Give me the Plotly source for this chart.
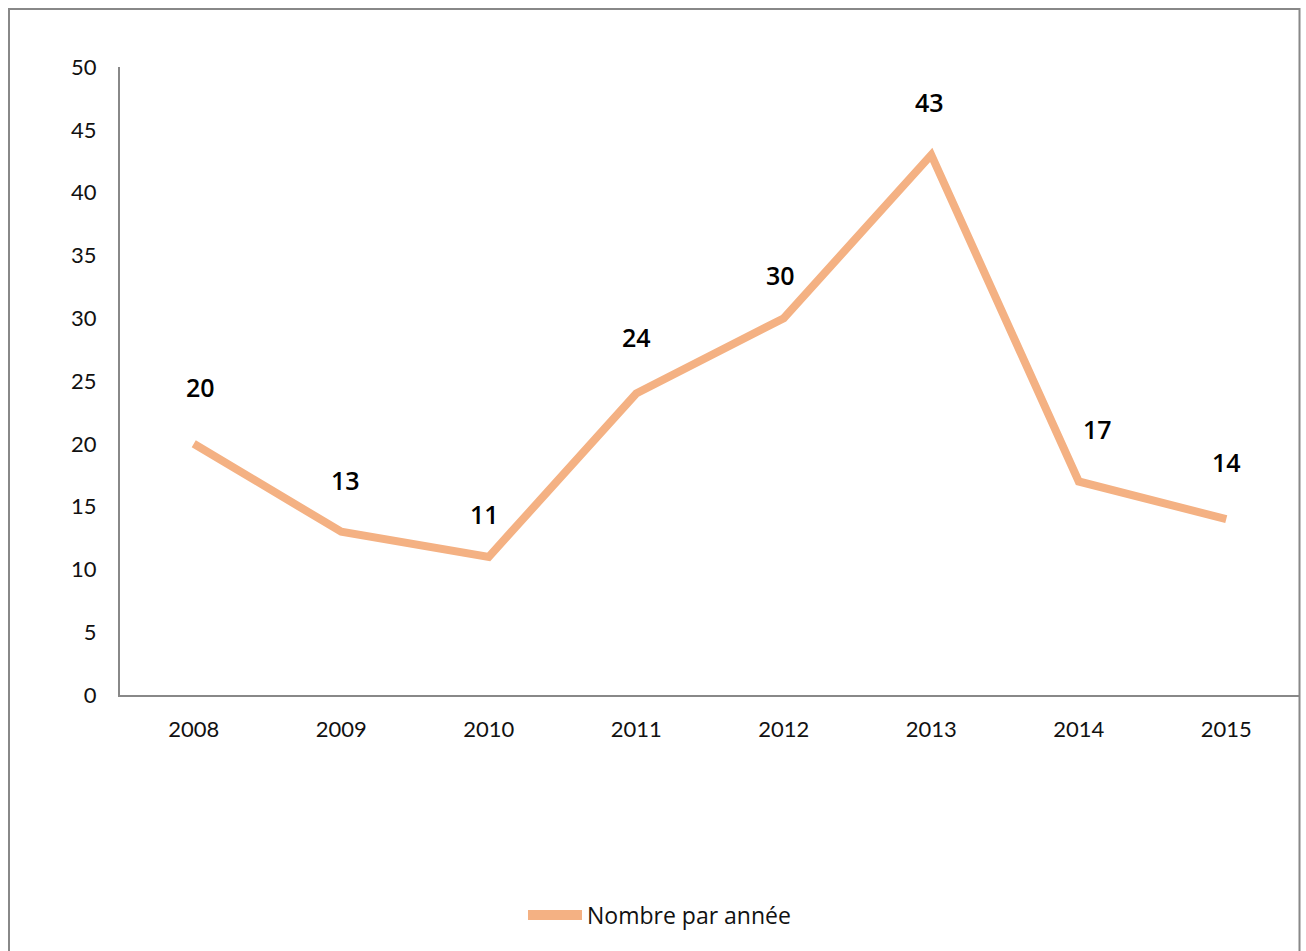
import plotly.graph_objects as go

# Data
years = ["2008", "2009", "2010", "2011", "2012", "2013", "2014", "2015"]
counts = [20, 13, 11, 24, 30, 43, 17, 14]
y_ticks = [0, 5, 10, 15, 20, 25, 30, 35, 40, 45, 50]
series_name = "Nombre par année"

W, H = 1306, 951
ML, MR, MT, MB = 120, 6, 67, 256
plot_w = W - ML - MR
plot_h = H - MT - MB

line_color = "#F4B183"
axis_color = "#888888"
tick_font = dict(family="Lato, Carlito, Calibri, sans-serif", size=22, color="#111111")


def px_to_paper_x(px):
    return (px - ML) / plot_w


def px_to_paper_y(py):
    return (H - MB - py) / plot_h


fig = go.Figure()
fig.add_trace(go.Scatter(
    x=years, y=counts, mode="lines", name=series_name,
    line=dict(color=line_color, width=8),
    showlegend=False,
))

# value labels above each point; numeric-looking categories are
# addressed by their index on the category axis
label_dx = {"2008": 7, "2009": 4, "2010": -4, "2012": -3, "2013": -2, "2014": 19}
label_dy = {"2008": 57, "2009": 52, "2010": 43, "2011": 57,
            "2012": 43, "2013": 53, "2014": 52, "2015": 57}
annotations = []
for i, (yr, v) in enumerate(zip(years, counts)):
    annotations.append(dict(
        x=i, y=v, xref="x", yref="y", text=str(v),
        showarrow=False,
        xshift=label_dx.get(yr, 0), yshift=label_dy.get(yr, 55),
        font=dict(family="Open Sans, sans-serif", size=25, color="#000000", weight=600),
        xanchor="center", yanchor="middle",
    ))

# legend drawn as a line swatch plus its label
legend_y = px_to_paper_y(915)
annotations.append(dict(
    x=px_to_paper_x(585), y=legend_y, xref="paper", yref="paper",
    text=series_name, showarrow=False, xanchor="left", yanchor="middle",
    font=dict(family="Open Sans, sans-serif", size=23, color="#111111"),
))

shapes = [
    # outer chart frame
    dict(
        type="rect", xref="paper", yref="paper",
        x0=px_to_paper_x(9), x1=px_to_paper_x(1299.5),
        y0=px_to_paper_y(1000), y1=px_to_paper_y(9),
        line=dict(color=axis_color, width=2),
    ),
    # legend swatch
    dict(
        type="line", xref="paper", yref="paper",
        x0=px_to_paper_x(528), x1=px_to_paper_x(582),
        y0=legend_y, y1=legend_y,
        line=dict(color=line_color, width=10),
    ),
]

fig.update_layout(
    width=W, height=H,
    margin=dict(l=ML, r=MR, t=MT, b=MB, autoexpand=False),
    paper_bgcolor="white", plot_bgcolor="white",
    annotations=annotations,
    shapes=shapes,
    showlegend=False,
    xaxis=dict(
        type="category", range=[-0.5, len(years) - 0.5],
        showline=True, linecolor=axis_color, linewidth=2,
        showgrid=False, zeroline=False, ticks="",
        tickfont=tick_font, ticklabelstandoff=14,
    ),
    yaxis=dict(
        range=[0, 50], tickvals=y_ticks,
        showline=True, linecolor=axis_color, linewidth=2,
        showgrid=False, zeroline=False, ticks="",
        tickfont=tick_font, ticklabelstandoff=17,
    ),
)

fig.write_html("out.html")
